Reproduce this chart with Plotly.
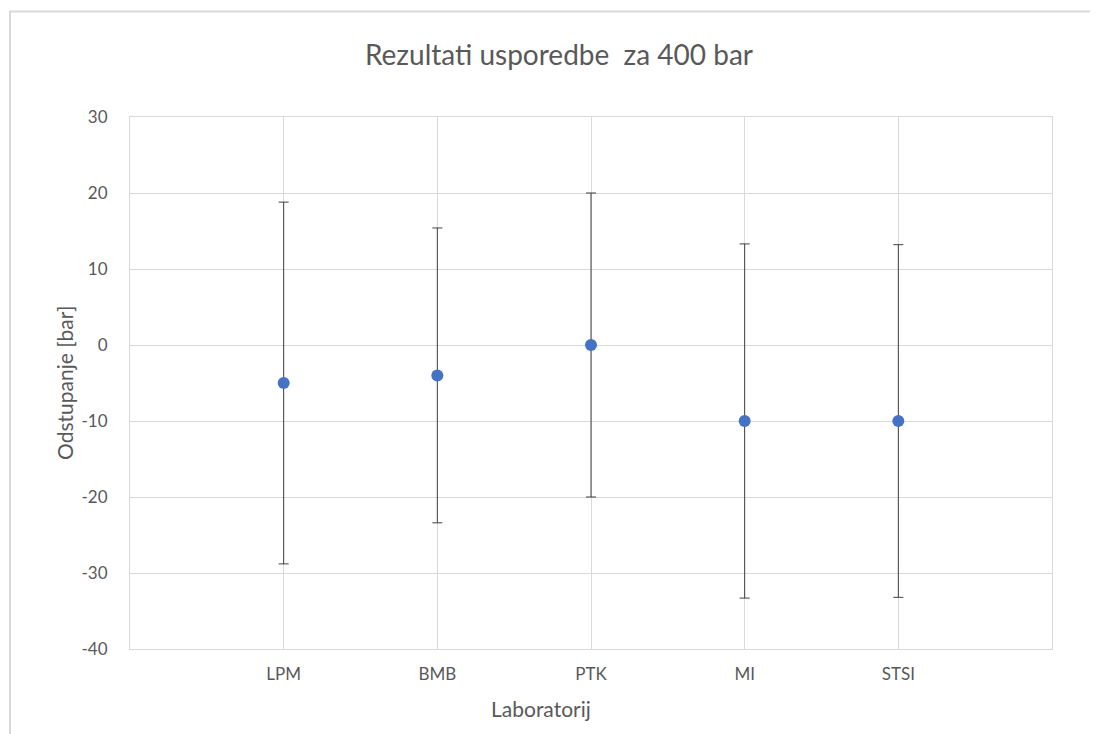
import plotly.graph_objects as go

labs = ["LPM", "BMB", "PTK", "MI", "STSI"]
odstupanje = [-5, -4, 0, -10, -10]
nesigurnost = [23.8, 19.4, 20.0, 23.3, 23.2]
pos = [1, 2, 3, 4, 5]
yticks = [-40, -30, -20, -10, 0, 10, 20, 30]
ytick_text = ["-40", "-30", "-20", "-10", "0", "10", "20", "30"]

FONT = "Lato"
GRAY = "#595959"
GRID = "#d9d9d9"

fig = go.Figure()
fig.add_trace(go.Scatter(
    x=pos, y=odstupanje, mode="markers",
    marker=dict(color="#4472C4", size=12),
    error_y=dict(type="data", array=nesigurnost, visible=True,
                 color="#404040", thickness=1, width=5),
    showlegend=False,
))

# page has 8px body margin; figure is offset by it
OFF = 8
W, H = 1098 - OFF, 734 - OFF
L, T, R, B = 130 - OFF, 117 - OFF, 46, 85
pw, ph = W - L - R, H - T - B


def px_x(p):  # page x -> paper x
    return (p - OFF - L) / pw


def px_y(p):  # page y -> paper y
    return (H - B - (p - OFF)) / ph


fig.add_shape(type="rect", xref="paper", yref="paper",
              x0=px_x(10), x1=px_x(1110), y0=px_y(745), y1=px_y(11.5),
              line=dict(color=GRID, width=2), fillcolor="rgba(0,0,0,0)", layer="below")

fig.add_annotation(text="Laboratorij", xref="paper", yref="paper",
                   x=px_x(541), y=px_y(708), xanchor="center", yanchor="middle",
                   showarrow=False, font=dict(size=21, color=GRAY, family=FONT))
fig.add_annotation(text="Odstupanje [bar]", xref="paper", yref="paper",
                   x=px_x(64), y=px_y(383), xanchor="center", yanchor="middle",
                   textangle=-90, showarrow=False,
                   font=dict(size=21, color=GRAY, family=FONT))

fig.update_layout(
    width=W, height=H,
    margin=dict(l=L, r=R, t=T, b=B),
    paper_bgcolor="white", plot_bgcolor="white",
    font=dict(family=FONT, color=GRAY, size=17),
    title=dict(text="Rezultati usporedbe  za 400 bar", x=(559 - OFF) / W, xanchor="center",
               y=1 - (55 - OFF) / H, yanchor="middle",
               font=dict(size=28, color=GRAY, family=FONT)),
    xaxis=dict(range=[0, 6], tickmode="array", tickvals=pos, ticktext=labs,
               showgrid=True, gridcolor=GRID, gridwidth=1,
               showline=True, linecolor=GRID, linewidth=1, mirror=True,
               zeroline=False, ticks="", ticklabelstandoff=10,
               tickfont=dict(size=17, color=GRAY)),
    yaxis=dict(range=[-40, 30], tickmode="array", tickvals=yticks, ticktext=ytick_text,
               showgrid=True, gridcolor=GRID, gridwidth=1,
               showline=True, linecolor=GRID, linewidth=1, mirror=True,
               zeroline=False, ticks="", ticklabelstandoff=18,
               tickfont=dict(size=17, color=GRAY)),
)

fig.write_html("out.html")
